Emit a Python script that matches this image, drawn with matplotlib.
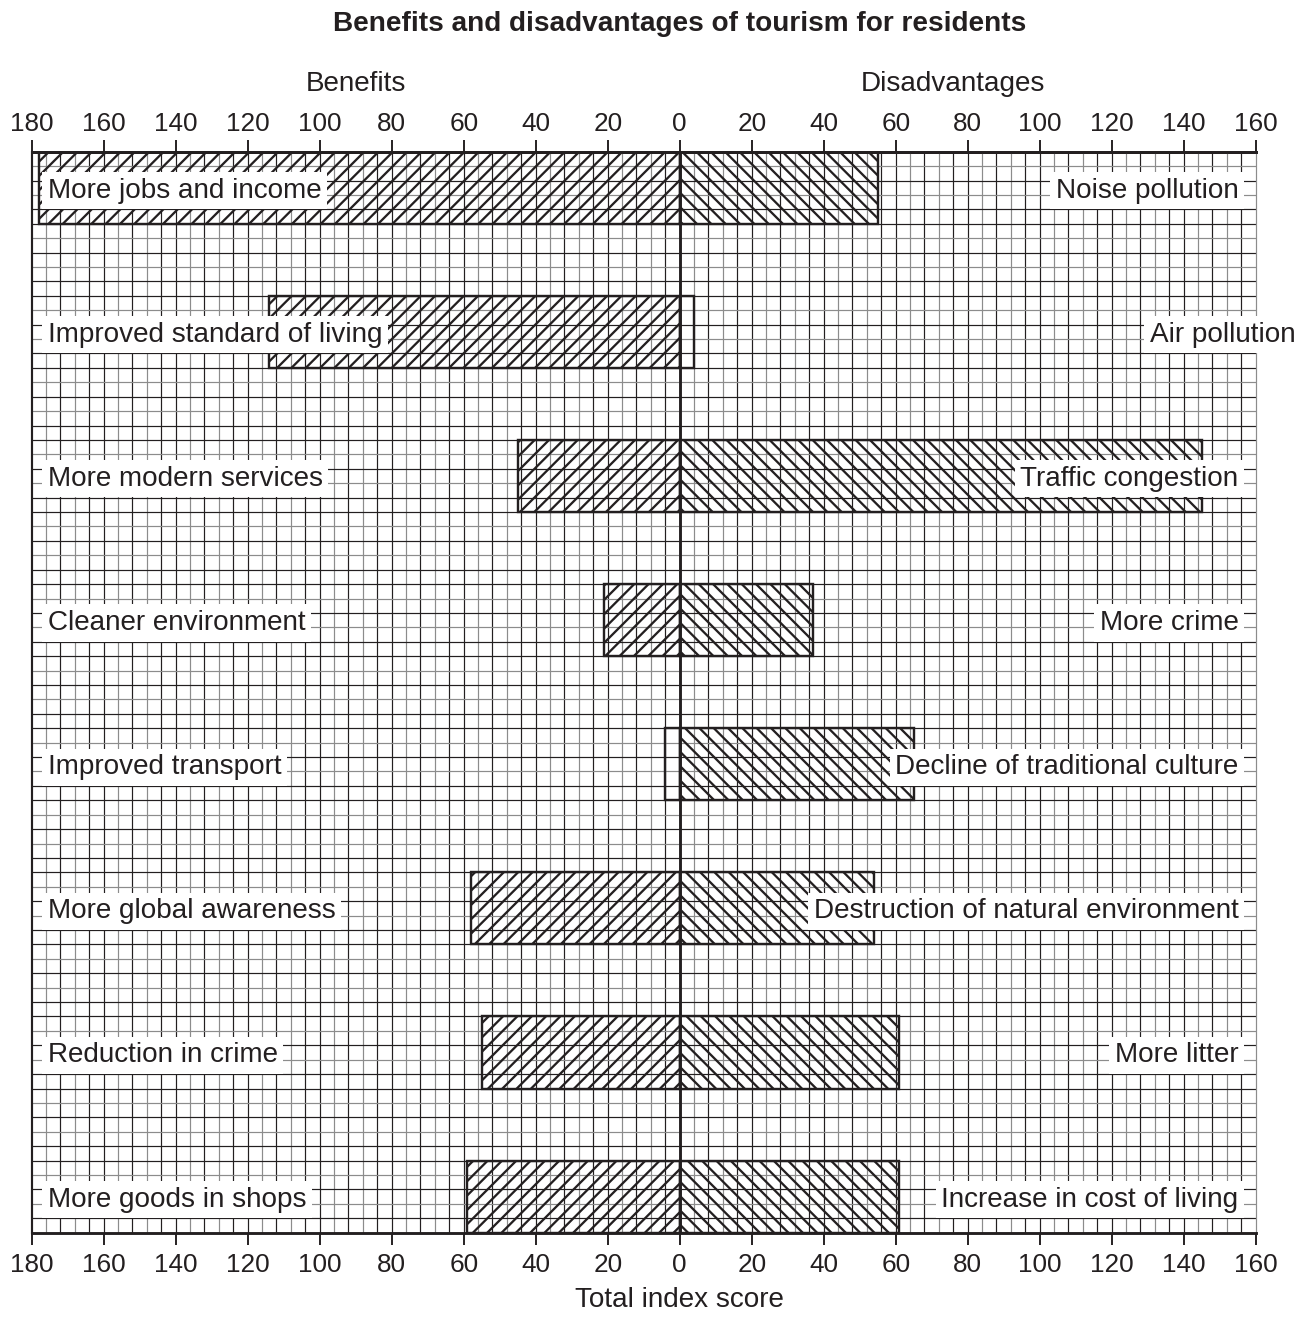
import numpy as np
import matplotlib.pyplot as plt

benefit_labels = ["More jobs and income", "Improved standard of living", "More modern services",
                  "Cleaner environment", "Improved transport", "More global awareness",
                  "Reduction in crime", "More goods in shops"]
benefit_scores = [178, 114, 45, 21, 4, 58, 55, 59]

disadv_labels = ["Noise pollution", "Air pollution", "Traffic congestion", "More crime",
                 "Decline of traditional culture", "Destruction of natural environment",
                 "More litter", "Increase in cost of living"]
disadv_scores = [55, 4, 145, 37, 65, 54, 61, 61]

xticks = np.arange(-180, 161, 20)
xtick_labels = [str(abs(t)) for t in xticks]

plt.rcParams['font.family'] = ['Liberation Sans', 'DejaVu Sans']
plt.rcParams['hatch.linewidth'] = 1.9

DPI = 86.4
INK = '#231f20'
GREY = '#8c8c8c'

fig = plt.figure(figsize=(1306 / DPI, 1320 / DPI), dpi=DPI)
ax = fig.add_axes([0.02427, 0.06614, 0.93721, 0.81894])
ax.set_xlim(-180, 160)
ax.set_ylim(15, 0)

# graph paper: lines every 4 units across, every 0.2 down
for v in np.arange(-176, 160, 4):
    col = GREY if v % 20 in (4, 12) else INK
    ax.axvline(v, color=col, lw=1.0, zorder=1)
for k in range(1, 75):
    col = GREY if k % 5 in (1, 3) else INK
    ax.axhline(k * 0.2, color=col, lw=1.0, zorder=1)
ax.axvline(0, color=INK, lw=2.4, zorder=4)

ypos = np.arange(len(benefit_labels)) * 2 + 0.5
left = ax.barh(ypos, -np.array(benefit_scores), height=1, color='none', edgecolor=INK,
               hatch='//', lw=2.0, zorder=3)
right = ax.barh(ypos, disadv_scores, height=1, color='none', edgecolor=INK,
                hatch='\\\\', lw=2.0, zorder=3)
# the tiny bars show no hatching in the original
for p in list(left) + list(right):
    if abs(p.get_width()) < 5:
        p.set_hatch('')

box = dict(facecolor='white', edgecolor='none', boxstyle='square,pad=0.2')
for y, lab in zip(ypos, benefit_labels):
    ax.text(-175.6, y + 0.04, lab, ha='left', va='center', fontsize=23.2, color=INK,
            bbox=box, zorder=5)
for y, lab in zip(ypos, disadv_labels):
    x = 171 if lab == "Air pollution" else 155.2
    ax.text(x, y + 0.04, lab, ha='right', va='center', fontsize=23.2, color=INK,
            bbox=box, zorder=5, clip_on=False)

ax.set_xticks(xticks, xtick_labels)
ax.set_yticks([])
ax.tick_params(axis='x', top=False, bottom=True, direction='out', length=10, width=1.6,
               color=INK, labelcolor=INK, labelsize=21.8, pad=7)

top = ax.secondary_xaxis('top')
top.set_xticks(xticks, xtick_labels)
top.tick_params(axis='x', direction='out', length=10, width=1.6, color=INK,
                labelcolor=INK, labelsize=21.8, pad=3)
top.spines['top'].set_linewidth(2.4)
top.spines['top'].set_color(INK)

for s in ('top', 'bottom'):
    ax.spines[s].set_linewidth(2.4)
    ax.spines[s].set_color(INK)
ax.spines['left'].set_linewidth(1.8)
ax.spines['left'].set_color(INK)
ax.spines['right'].set_linewidth(1.0)
ax.spines['right'].set_color(GREY)

fig.text(0.5207, 0.9818, "Benefits and disadvantages of tourism for residents",
         ha='center', va='center', fontsize=23.3, weight='bold', color=INK)
fig.text(0.2726, 0.9364, "Benefits", ha='center', va='center', fontsize=23.2, color=INK)
fig.text(0.7297, 0.9364, "Disadvantages", ha='center', va='center', fontsize=23.2, color=INK)
fig.text(0.5200, 0.0152, "Total index score", ha='center', va='center', fontsize=23.2, color=INK)

fig.savefig("out.png", dpi=DPI)
